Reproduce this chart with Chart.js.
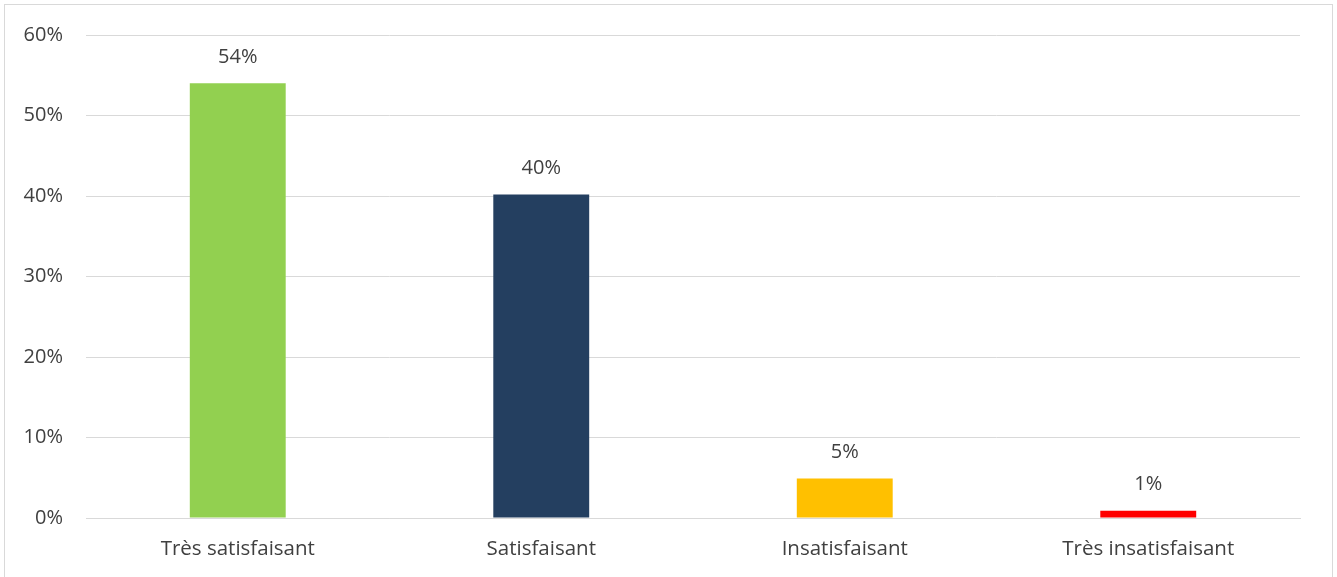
<!DOCTYPE html>
<html><head><meta charset="utf-8">
<script src="https://cdn.jsdelivr.net/npm/chart.js@4/dist/chart.umd.min.js"></script>
<style>html,body{margin:0;padding:0;background:#fff;overflow:hidden}#w{width:1337px;height:577px}</style>
</head><body><div id="w"><canvas id="c" width="1337" height="577"></canvas></div>
<script>
const categories = ["Très satisfaisant", "Satisfaisant", "Insatisfaisant", "Très insatisfaisant"];
const values = [54, 40.2, 4.9, 0.9];
const colors = ["#92D050", "#243F60", "#FFC000", "#FF0000"];
const yTicks = [0, 10, 20, 30, 40, 50, 60];

const FONT = "'Open Sans', 'DejaVu Sans', sans-serif";
const TXT = "#404040";

const framePlugin = {
  id: 'frame',
  beforeDraw(chart) {
    const ctx = chart.ctx;
    ctx.save();
    ctx.fillStyle = '#fff';
    ctx.fillRect(0, 0, chart.width, chart.height);
    ctx.strokeStyle = '#d9d9d9';
    ctx.lineWidth = 1;
    ctx.strokeRect(4.5, 4.5, 1328, 620);
    ctx.restore();
  }
};
const labelPlugin = {
  id: 'vlabels',
  afterDatasetsDraw(chart) {
    const ctx = chart.ctx;
    const meta = chart.getDatasetMeta(0);
    ctx.save();
    ctx.font = "20px " + FONT;
    ctx.fillStyle = TXT;
    ctx.textAlign = 'center';
    ctx.textBaseline = 'middle';
    meta.data.forEach((bar, i) => {
      ctx.fillText(Math.round(values[i]) + '%', bar.x, bar.y - 26);
    });
    ctx.restore();
  }
};

new Chart(document.getElementById('c'), {
  type: 'bar',
  data: {
    labels: categories,
    datasets: [{ data: values, backgroundColor: colors, barPercentage: 0.316, categoryPercentage: 1 }]
  },
  options: {
    responsive: false,
    animation: false,
    devicePixelRatio: 1,
    layout: { padding: { top: 34, right: 37, left: 0, bottom: 0 } },
    plugins: { legend: { display: false }, tooltip: { enabled: false } },
    scales: {
      x: {
        grid: { display: false, drawTicks: false },
        border: { color: '#d9d9d9', width: 1 },
        ticks: { color: TXT, font: { family: FONT, size: 20.5 }, padding: 19, maxRotation: 0 },
        afterFit(s) { s.height = 59; }
      },
      y: {
        min: 0, max: 60,
        afterBuildTicks(s) { s.ticks = yTicks.map(v => ({ value: v })); },
        grid: { color: '#d9d9d9', drawTicks: false },
        border: { display: false },
        ticks: { color: TXT, font: { family: FONT, size: 20 }, padding: 23, callback: v => v + '%' },
        afterFit(s) { s.width = 86; }
      }
    }
  },
  plugins: [framePlugin, labelPlugin]
});
</script></body></html>
